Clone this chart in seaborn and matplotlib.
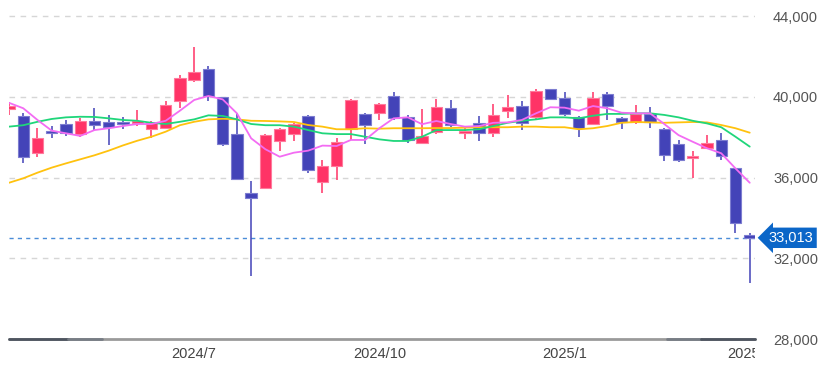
import numpy as np
import pandas as pd
import matplotlib
matplotlib.use("Agg")
import matplotlib.pyplot as plt
from matplotlib.transforms import Bbox, TransformedBbox
import seaborn as sns

# weekly candles, 2024/4 - 2025/4
weeks = pd.date_range("2024-04-08", periods=53, freq="W-MON")
opens = [39390, 39060, 37200, 38320, 38650, 38150, 38780, 38760, 38760, 38680,
         38420, 38470, 39800, 40830, 41370, 39970, 38140, 35250, 35460, 37820,
         38140, 39050, 35790, 36580, 38390, 39130, 39210, 40050, 38980, 37720,
         38240, 39430, 38220, 38680, 38190, 39310, 39560, 39010, 40370, 39920,
         39010, 38650, 40120, 38930, 38730, 39150, 38390, 37640, 36950, 37450,
         37860, 36460, 33150]
highs = [39740, 39210, 38440, 38550, 38850, 38960, 39430, 39100, 38980, 39340,
         38800, 39790, 41080, 42450, 41520, 40010, 39180, 35830, 38140, 38440,
         38710, 39100, 36870, 37970, 39870, 39180, 39710, 40240, 39100, 39380,
         39870, 39840, 38550, 39050, 39640, 40090, 39790, 40370, 40400, 40250,
         39050, 40250, 40250, 38980, 39590, 39510, 38470, 37860, 37310, 38110,
         38220, 36490, 33240]
lows = [39100, 36730, 37030, 37940, 38060, 37990, 38350, 37610, 38390, 38550,
        37940, 38390, 39460, 40750, 39790, 37560, 35880, 31120, 35430, 37310,
        37810, 36240, 35250, 35880, 37860, 37660, 38850, 38850, 37690, 37700,
        38150, 38520, 37920, 37790, 37990, 38960, 38350, 38850, 39860, 39050,
        38020, 38620, 38850, 38390, 38640, 38470, 36820, 36780, 35990, 37400,
        36870, 33270, 30790]
closes = [39540, 37030, 37960, 38190, 38190, 38800, 38620, 38490, 38650, 38810,
          38680, 39590, 40910, 41210, 40040, 37640, 35910, 35000, 38100, 38390,
          38650, 36370, 36580, 37740, 39840, 38600, 39640, 38960, 37860, 38060,
          39510, 38600, 38320, 38190, 39100, 39480, 38680, 40300, 39870, 39150,
          38440, 39920, 39540, 38760, 39130, 38760, 37110, 36870, 37060, 37690,
          37080, 33760, 33013]

# moving averages (short / 13 week / 26 week)
ma_short = [39700, 39430, 38850, 38320, 38190, 38060, 38350, 38440, 38550, 38650,
            38650, 38810, 39310, 39840, 40040, 39870, 39180, 37940, 37400, 37030,
            37230, 37330, 37580, 37560, 37860, 37860, 38440, 38930, 38980, 38640,
            38800, 38650, 38520, 38550, 38710, 38730, 38850, 39180, 39480, 39460,
            39310, 39540, 39430, 39210, 39180, 39180, 38650, 38100, 37770, 37450,
            37200, 36450, 35740]
ma_mid = [38520, 38590, 38760, 38900, 38980, 39010, 39000, 38930, 38850, 38810,
          38710, 38650, 38760, 38880, 39080, 39050, 38880, 38650, 38590, 38590,
          38520, 38350, 38190, 38150, 38150, 38020, 37890, 37810, 37810, 38020,
          38350, 38350, 38350, 38390, 38550, 38710, 38810, 38880, 38980, 38980,
          38930, 39060, 39150, 39150, 39180, 39180, 39100, 38980, 38810, 38680,
          38490, 38020, 37530]
ma_long = [35740, 35960, 36240, 36490, 36700, 36900, 37100, 37330, 37590, 37820,
           38020, 38270, 38590, 38760, 38880, 38910, 38880, 38810, 38800, 38780,
           38750, 38600, 38520, 38390, 38390, 38440, 38420, 38440, 38440, 38440,
           38450, 38450, 38470, 38490, 38490, 38490, 38520, 38520, 38490, 38490,
           38390, 38440, 38550, 38710, 38750, 38730, 38710, 38730, 38750, 38730,
           38600, 38440, 38220]

last_price = 33013
y_ticks = [28000, 32000, 36000, 40000, 44000]
x_tick_pos = [13, 26, 39, 52]
x_tick_labels = ["2024/7", "2024/10", "2025/1", "2025/4"]

UP, DOWN = "#ff3366", "#4343b8"
UP_EDGE, DOWN_EDGE = "#ff7a9c", "#7d7dd0"

df = pd.DataFrame({"week": weeks, "open": opens, "high": highs,
                   "low": lows, "close": closes})
df["idx"] = np.arange(len(df))
up = df["close"] >= df["open"]

ma = pd.DataFrame({"idx": df["idx"], "26w": ma_long, "13w": ma_mid, "5w": ma_short})
ma_long_df = ma.melt(id_vars="idx", var_name="ma", value_name="value")

sns.set_style("white")
plt.rcParams["font.family"] = ["Liberation Sans", "DejaVu Sans"]

fig = plt.figure(figsize=(8.33, 3.73), dpi=100)
ax = fig.add_axes([9 / 833, 34 / 373, 746 / 833, 339 / 373])

# candles
ax.vlines(df["idx"], df["low"], df["high"],
          colors=np.where(up, UP, DOWN), lw=1.1, zorder=2)
ax.bar(df["idx"], (df["close"] - df["open"]).abs(),
       bottom=df[["open", "close"]].min(axis=1), width=0.8,
       color=np.where(up, UP, DOWN), edgecolor=np.where(up, UP_EDGE, DOWN_EDGE),
       linewidth=0.8, zorder=3)

# moving averages
sns.lineplot(data=ma_long_df, x="idx", y="value", hue="ma",
             hue_order=["26w", "13w", "5w"],
             palette={"26w": "#ffc20e", "13w": "#1fd67a", "5w": "#f36cf3"},
             lw=1.3, legend=False, ax=ax, zorder=4)

# grid and last price
for y in y_ticks[1:]:
    ax.axhline(y, color="#d6d6d6", lw=1, ls=(0, (4, 4)), zorder=0)
ax.axhline(last_price, color="#4b8dd8", lw=1, ls=(0, (3, 3)), zorder=1)

# bottom bar
ax.plot([0, 1], [0, 0], color="#9a9a9a", lw=2, transform=ax.transAxes, clip_on=False, zorder=5)
for a, b, c in [(0, 0.079, "#4e5560"), (0.079, 0.124, "#777d85"),
                (0.882, 0.927, "#777d85"), (0.927, 1.0, "#4e5560")]:
    ax.plot([a, b], [0, 0], color=c, lw=2, transform=ax.transAxes, clip_on=False, zorder=6)

ax.set_xlim(0, 52.37)
ax.set_ylim(28000, 44793)
for s in ax.spines.values():
    s.set_visible(False)

ax.yaxis.tick_right()
ax.set_yticks(y_ticks, [f"{v:,}" for v in y_ticks])
ax.set_xticks(x_tick_pos, x_tick_labels)
ax.tick_params(axis="y", length=0, pad=13, labelcolor="#555555", labelsize=10.5)
ax.tick_params(axis="x", length=0, pad=6, labelcolor="#444444", labelsize=10.5)
ax.set_xlabel("")
ax.set_ylabel("")

clip = TransformedBbox(Bbox([[0, 0], [755 / 833, 1]]), fig.transFigure)
for lab in ax.get_xticklabels():
    lab.set_clip_box(clip)
    lab.set_clip_on(True)

ax.text(1.0185, last_price, f"{last_price:,}", transform=ax.get_yaxis_transform(),
        ha="left", va="center", color="white", fontsize=10.5,
        bbox=dict(boxstyle="larrow,pad=0.22", fc="#0b66c8", ec="none"), zorder=7)

fig.savefig("out.png", dpi=100)
